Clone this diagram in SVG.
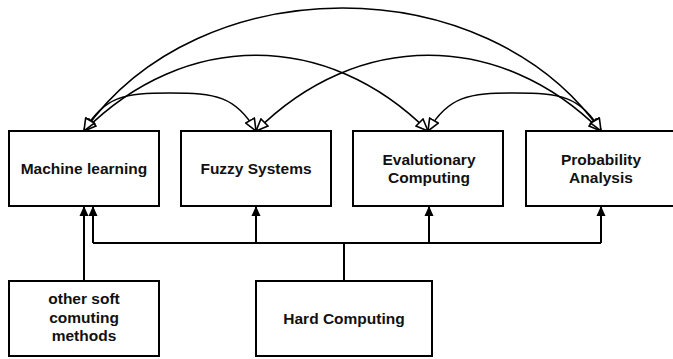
<svg xmlns="http://www.w3.org/2000/svg" width="673" height="359" viewBox="0 0 673 359">
  <style>
    .box { fill: #ffffff; stroke: #000000; stroke-width: 2; }
    .label { font-family: "Liberation Sans", Arial, sans-serif; font-weight: bold; font-size: 15.5px; fill: #111111; text-anchor: middle; }
    .arc { fill: none; stroke: #000000; stroke-width: 1.6; marker-start: url(#open); marker-end: url(#open); }
    .link { fill: none; stroke: #000000; stroke-width: 2; }
    .up { marker-end: url(#solid); }
  </style>
  <defs>
    <!-- hollow head for the curved two-way links -->
    <marker id="open" viewBox="0 0 14 12" refX="13" refY="6" markerWidth="14" markerHeight="12" markerUnits="userSpaceOnUse" orient="auto-start-reverse">
      <path d="M1,1 L13,6 L1,11 Z" fill="#ffffff" stroke="#000000" stroke-width="1.6" stroke-linejoin="miter"/>
    </marker>
    <!-- filled head for the straight feeds -->
    <marker id="solid" viewBox="0 0 10 10" refX="10" refY="5" markerWidth="10" markerHeight="10" markerUnits="userSpaceOnUse" orient="auto">
      <path d="M0,0.5 L10,5 L0,9.5 Z" fill="#000000"/>
    </marker>
  </defs>

  <rect width="673" height="359" fill="#ffffff"/>

  <g id="connectors">
    <!-- curved links between the four soft-computing fields -->
    <path class="arc" d="M84,131 C199,-33 486,-33 601,131"/>
    <path class="arc" d="M84,131 C185,30 327,30 428,131"/>
    <path class="arc" d="M256,131 C357,30 500,30 601,131"/>
    <path class="arc" d="M84,131 C104,96 125,93 170,93 C215,93 236,96 256,131"/>
    <path class="arc" d="M428,131 C448,96 469.5,93 514.5,93 C559.5,93 581,96 601,131"/>

    <!-- hard computing bus -->
    <path class="link" d="M93,243 H601"/>
    <path class="link" d="M344,243 V281"/>
    <path class="link up" d="M93,243 V206"/>
    <path class="link up" d="M256,243 V206"/>
    <path class="link up" d="M429,243 V206"/>
    <path class="link up" d="M601,243 V206"/>

    <!-- other soft computing methods feed -->
    <path class="link up" d="M84,281 V206"/>
  </g>

  <g id="machine-learning">
    <rect class="box" x="9" y="131" width="150" height="75"/>
    <text class="label" x="84" y="174">Machine learning</text>
  </g>

  <g id="fuzzy-systems">
    <rect class="box" x="181" y="131" width="150" height="75"/>
    <text class="label" x="256" y="174">Fuzzy Systems</text>
  </g>

  <g id="evolutionary-computing">
    <rect class="box" x="353" y="131" width="150" height="75"/>
    <text class="label" x="429" y="165">Evalutionary</text>
    <text class="label" x="429" y="183">Computing</text>
  </g>

  <g id="probability-analysis">
    <rect class="box" x="526" y="131" width="150" height="75"/>
    <text class="label" x="601" y="165">Probability</text>
    <text class="label" x="601" y="183">Analysis</text>
  </g>

  <g id="other-soft-computing">
    <rect class="box" x="9" y="281" width="150" height="75"/>
    <text class="label" x="84" y="304">other soft</text>
    <text class="label" x="84" y="322.5">comuting</text>
    <text class="label" x="84" y="341">methods</text>
  </g>

  <g id="hard-computing">
    <rect class="box" x="256" y="281" width="176" height="75"/>
    <text class="label" x="344" y="324">Hard Computing</text>
  </g>
</svg>
